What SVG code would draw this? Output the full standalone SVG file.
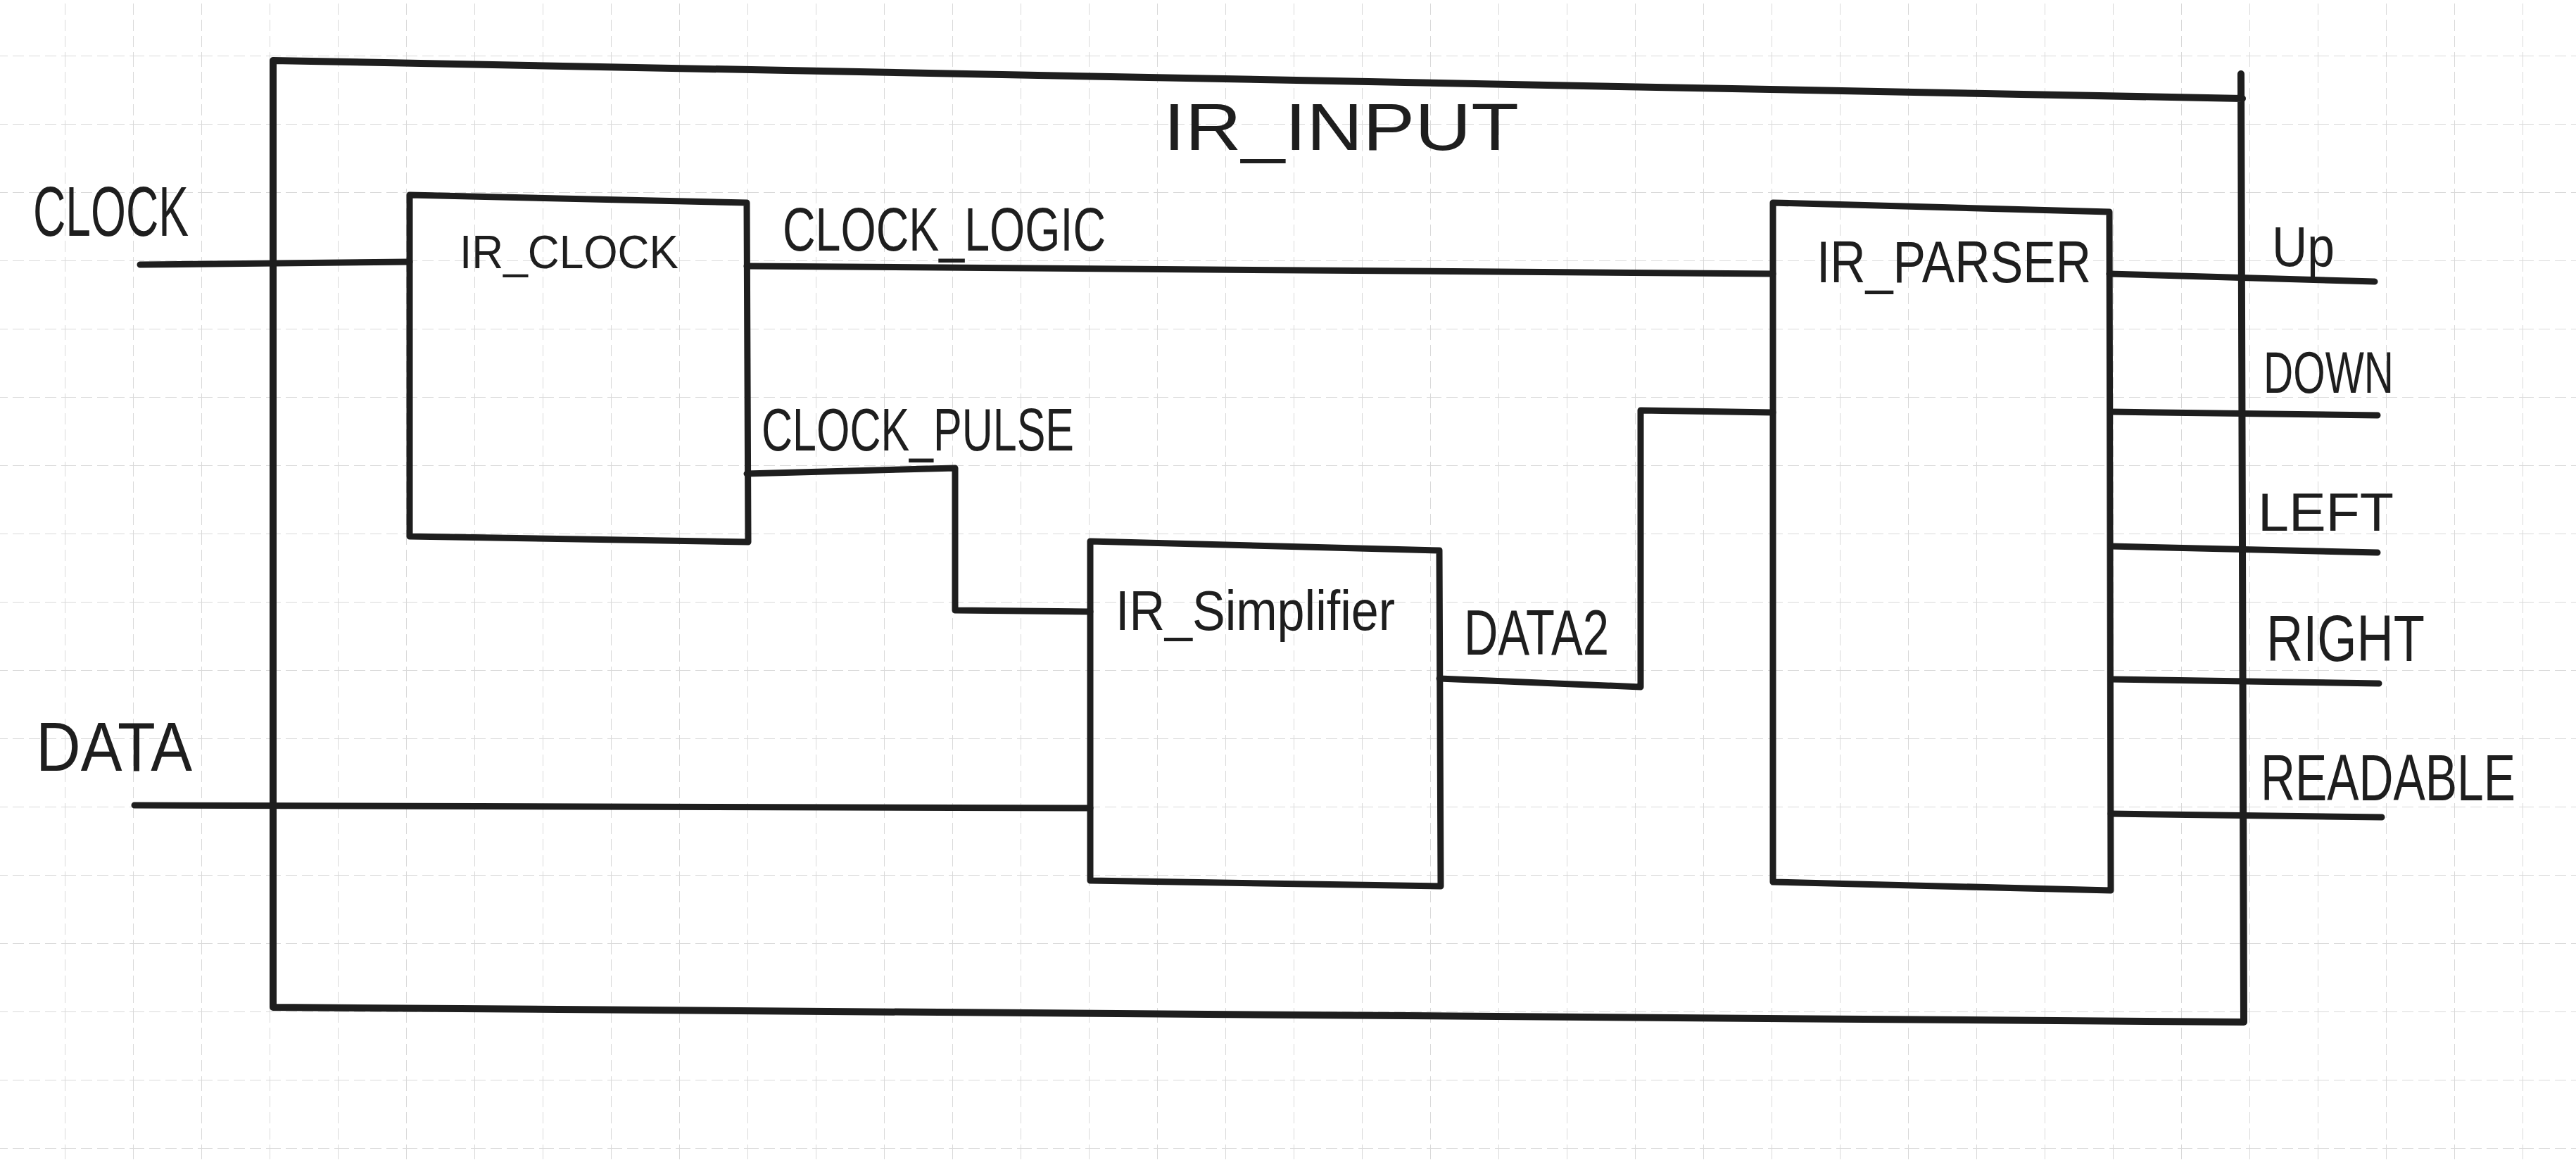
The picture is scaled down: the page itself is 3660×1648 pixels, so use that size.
<svg xmlns="http://www.w3.org/2000/svg" width="3660" height="1648" viewBox="0 0 3660 1648">
<style>
.box{fill:none;stroke:#1e1e1e;stroke-width:9;stroke-linejoin:round;stroke-linecap:round}
.outer{fill:none;stroke:#1e1e1e;stroke-width:10;stroke-linejoin:round;stroke-linecap:round}
.wire{fill:none;stroke:#1e1e1e;stroke-width:9;stroke-linejoin:round;stroke-linecap:round}
.lbl{font-family:"Liberation Sans","DejaVu Sans",sans-serif;fill:#1e1e1e;font-weight:normal}
</style>
<defs>
<pattern id="grid" patternUnits="userSpaceOnUse" x="92" y="79" width="97" height="97">
<path d="M0,0 H97 M0,0 V97" fill="none" stroke="#cfcfcf" stroke-width="2" stroke-dasharray="16 7"/>
</pattern>
</defs>
<rect x="0" y="0" width="3660" height="1648" fill="#ffffff"/>
<rect x="0" y="0" width="3660" height="1648" fill="url(#grid)" opacity="0.8"/>

<g id="ir_input">
<path class="outer" d="M388,86 L3186,140 M3184,105 L3188,1452 L388,1431 L388,86"/>
<text class="lbl" x="1653" y="213" font-size="95" textLength="505" lengthAdjust="spacingAndGlyphs">IR_INPUT</text>
</g>

<g id="ir_clock">
<path class="box" d="M582,277 L1061,288 L1063,770 L582,762 Z"/>
<text class="lbl" x="653" y="381" font-size="66" textLength="311" lengthAdjust="spacingAndGlyphs">IR_CLOCK</text>
</g>

<g id="ir_simplifier">
<path class="box" d="M1549,769 L2045,782 L2047,1259 L1549,1251 Z"/>
<text class="lbl" x="1585" y="895" font-size="80" textLength="397" lengthAdjust="spacingAndGlyphs">IR_Simplifier</text>
</g>

<g id="ir_parser">
<path class="box" d="M2519,288 L2997,301 L2999,1265 L2519,1253 Z"/>
<text class="lbl" x="2581" y="401" font-size="84" textLength="390" lengthAdjust="spacingAndGlyphs">IR_PARSER</text>
</g>

<g id="connectors">
<path class="wire" d="M199,376 L582,372"/>
<path class="wire" d="M1061,378 L2519,389"/>
<path class="wire" d="M1061,673 L1357,665 L1357,867 L1549,869"/>
<path class="wire" d="M191,1144 L1549,1148"/>
<path class="wire" d="M2045,964 L2331,976 L2331,583 L2519,586"/>
<path class="wire" d="M2997,389 L3374,400"/>
<path class="wire" d="M2999,585 L3378,590"/>
<path class="wire" d="M2999,776 L3378,785"/>
<path class="wire" d="M2999,965 L3380,971"/>
<path class="wire" d="M2999,1156 L3384,1161"/>
</g>

<g id="labels">
<text class="lbl" x="47" y="335" font-size="100" textLength="221" lengthAdjust="spacingAndGlyphs">CLOCK</text>
<text class="lbl" x="51" y="1095" font-size="98" textLength="222" lengthAdjust="spacingAndGlyphs">DATA</text>
<text class="lbl" x="1112" y="356" font-size="88" textLength="459" lengthAdjust="spacingAndGlyphs">CLOCK_LOGIC</text>
<text class="lbl" x="1082" y="640" font-size="86" textLength="444" lengthAdjust="spacingAndGlyphs">CLOCK_PULSE</text>
<text class="lbl" x="2080" y="930" font-size="90" textLength="206" lengthAdjust="spacingAndGlyphs">DATA2</text>
<text class="lbl" x="3228" y="378" font-size="80" textLength="89" lengthAdjust="spacingAndGlyphs">Up</text>
<text class="lbl" x="3216" y="558" font-size="84" textLength="185" lengthAdjust="spacingAndGlyphs">DOWN</text>
<text class="lbl" x="3208" y="754" font-size="76" textLength="193" lengthAdjust="spacingAndGlyphs">LEFT</text>
<text class="lbl" x="3220" y="939" font-size="92" textLength="225" lengthAdjust="spacingAndGlyphs">RIGHT</text>
<text class="lbl" x="3212" y="1137" font-size="92" textLength="362" lengthAdjust="spacingAndGlyphs">READABLE</text>
</g>
</svg>
